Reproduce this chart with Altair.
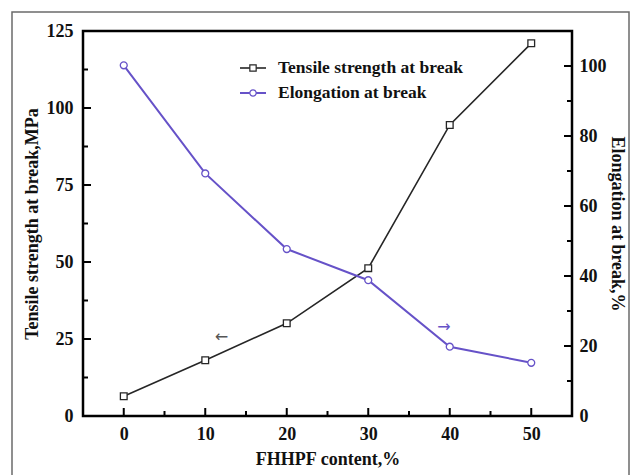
import altair as alt
import pandas as pd

# FHHPF loading (%) and the two measured properties
content = [0, 10, 20, 30, 40, 50]
tensile = [6.4, 18.1, 30.1, 48.0, 94.5, 121.0]      # MPa, left axis
elongation = [100.2, 69.3, 47.7, 38.8, 19.8, 15.2]  # %, right axis

series_names = ["Tensile strength at break", "Elongation at break"]

# axis tick values
x_major = [0, 10, 20, 30, 40, 50]
x_minor = [5, 15, 25, 35, 45]
left_major = [0, 25, 50, 75, 100, 125]
left_minor = [12.5, 37.5, 62.5, 87.5, 112.5]
right_major = [0, 20, 40, 60, 80, 100]
right_minor = [10, 30, 50, 70, 90]

# direction arrows pointing to each series' axis
arrow_left = {"x": [12.0], "y": [25.6], "t": ["\u2190"]}
arrow_right = {"x": [39.3], "y": [25.4], "t": ["\u2192"]}

W, H = 489, 385
FONT = "Liberation Serif"
FS = 18
BLACK = "#262626"
PURPLE = "#6652c8"

df = pd.DataFrame({"content": content, "tensile": tensile, "elongation": elongation})
x_scale = alt.Scale(domain=[-5, 55], nice=False, zero=False)
yl_scale = alt.Scale(domain=[0, 125], nice=False)
yr_scale = alt.Scale(domain=[0, 110], nice=False)

x_axis = alt.Axis(
    values=x_major, ticks=False, domain=False, grid=False, labelPadding=9,
    title="FHHPF content,%", titleX=W / 2, titleY=43, titleAlign="center",
    titleBaseline="middle", labelFlush=False,
)
yl_axis = alt.Axis(
    values=left_major, ticks=False, domain=False, grid=False, labelPadding=10,
    title="Tensile strength at break,MPa", titleAngle=-90, titleX=-51, titleY=H / 2,
    titleAlign="center", titleBaseline="middle",
)
yr_axis = alt.Axis(
    orient="right",
    values=right_major, ticks=False, domain=False, grid=False, labelPadding=7,
    title="Elongation at break,%", titleAngle=90, titleX=44, titleY=H / 2,
    titleAlign="center", titleBaseline="middle",
)


def X(field):
    return alt.X(field, scale=x_scale, axis=x_axis)


def YL(field):
    return alt.Y(field, scale=yl_scale, axis=yl_axis)


def YR(field):
    return alt.Y(field, scale=yr_scale, axis=yr_axis)


base = alt.Chart(df)

t_line = base.mark_line(color=BLACK, strokeWidth=1.6).encode(
    x=X("content:Q"), y=YL("tensile:Q")
)
t_pts = base.mark_point(
    shape="square", size=45, filled=True, fill="white", stroke=BLACK, strokeWidth=1.3, opacity=1
).encode(x=X("content:Q"), y=YL("tensile:Q"))

xt_major = alt.Chart(pd.DataFrame({"v": x_major})).mark_rule(color="black", strokeWidth=2).encode(
    x=X("v:Q"), y=alt.value(H), y2=alt.value(H - 8)
)
xt_minor = alt.Chart(pd.DataFrame({"v": x_minor})).mark_rule(color="black", strokeWidth=2).encode(
    x=X("v:Q"), y=alt.value(H), y2=alt.value(H - 5)
)
yl_major_t = alt.Chart(pd.DataFrame({"v": left_major})).mark_rule(color="black", strokeWidth=2).encode(
    y=YL("v:Q"), x=alt.value(0), x2=alt.value(8)
)
yl_minor_t = alt.Chart(pd.DataFrame({"v": left_minor})).mark_rule(color="black", strokeWidth=2).encode(
    y=YL("v:Q"), x=alt.value(0), x2=alt.value(5)
)
arrow_l = alt.Chart(pd.DataFrame(arrow_left)).mark_text(
    font="DejaVu Sans", fontSize=16, color="#555555"
).encode(x=X("x:Q"), y=YL("y:Q"), text="t:N")

# outer frame around the whole figure
frame = alt.Chart(pd.DataFrame({"k": [0]})).mark_rect(
    fill=None, stroke="#6b6b6b", strokeWidth=1.5
).encode(
    x=alt.value(-71), x2=alt.value(546), y=alt.value(-19), y2=alt.value(470)
)

# legend drawn inside the plot
leg_y = [37, 62]
LEG_FS = 17.5
leg_t_line = alt.Chart(pd.DataFrame({"k": [0]})).mark_rule(color=BLACK, strokeWidth=1.6).encode(
    x=alt.value(157), x2=alt.value(183), y=alt.value(leg_y[0])
)
leg_t_pt = alt.Chart(pd.DataFrame({"k": [0]})).mark_point(
    shape="square", size=40, filled=True, fill="white", stroke=BLACK, strokeWidth=1.2, opacity=1
).encode(x=alt.value(170), y=alt.value(leg_y[0]))
leg_t_txt = alt.Chart(pd.DataFrame({"t": [series_names[0]]})).mark_text(
    font=FONT, fontSize=LEG_FS, fontWeight="bold", align="left", baseline="middle", color="#111111"
).encode(x=alt.value(195), y=alt.value(leg_y[0]), text="t:N")

leg_e_line = alt.Chart(pd.DataFrame({"k": [0]})).mark_rule(color=PURPLE, strokeWidth=2).encode(
    x=alt.value(157), x2=alt.value(183), y=alt.value(leg_y[1])
)
leg_e_pt = alt.Chart(pd.DataFrame({"k": [0]})).mark_point(
    shape="circle", size=40, filled=True, fill="white", stroke=PURPLE, strokeWidth=1.2, opacity=1
).encode(x=alt.value(170), y=alt.value(leg_y[1]))
leg_e_txt = alt.Chart(pd.DataFrame({"t": [series_names[1]]})).mark_text(
    font=FONT, fontSize=LEG_FS, fontWeight="bold", align="left", baseline="middle", color="#111111"
).encode(x=alt.value(195), y=alt.value(leg_y[1]), text="t:N")

left_group = alt.layer(
    t_line, t_pts, xt_major, xt_minor, yl_major_t, yl_minor_t, arrow_l,
)

e_line = base.mark_line(color=PURPLE, strokeWidth=2).encode(
    x=X("content:Q"), y=YR("elongation:Q")
)
e_pts = base.mark_point(
    shape="circle", size=48, filled=True, fill="white", stroke=PURPLE, strokeWidth=1.3, opacity=1
).encode(x=X("content:Q"), y=YR("elongation:Q"))
yr_major_t = alt.Chart(pd.DataFrame({"v": right_major})).mark_rule(color="black", strokeWidth=2).encode(
    y=YR("v:Q"), x=alt.value(W), x2=alt.value(W - 8)
)
yr_minor_t = alt.Chart(pd.DataFrame({"v": right_minor})).mark_rule(color="black", strokeWidth=2).encode(
    y=YR("v:Q"), x=alt.value(W), x2=alt.value(W - 5)
)
arrow_r = alt.Chart(pd.DataFrame(arrow_right)).mark_text(
    font="DejaVu Sans", fontSize=16, color=PURPLE
).encode(x=X("x:Q"), y=YR("y:Q"), text="t:N")

right_group = alt.layer(e_line, e_pts, yr_major_t, yr_minor_t, arrow_r)

decor = alt.layer(
    frame, leg_t_line, leg_t_pt, leg_t_txt, leg_e_line, leg_e_pt, leg_e_txt,
)

chart = alt.layer(left_group, right_group, decor).resolve_scale(y="independent").properties(
    width=W,
    height=H,
    autosize=alt.AutoSizeParams(type="none"),
    padding={"left": 83, "top": 31, "right": 59, "bottom": 59},
    background="white",
).configure_view(
    stroke="black", strokeWidth=2.5
).configure_axis(
    labelFont=FONT, labelFontSize=FS, labelFontWeight="bold", labelColor="#111111",
    titleFont=FONT, titleFontSize=FS, titleFontWeight="bold", titleColor="#111111",
)

chart.save("out.html", embed_options={"renderer": "svg", "actions": False})
